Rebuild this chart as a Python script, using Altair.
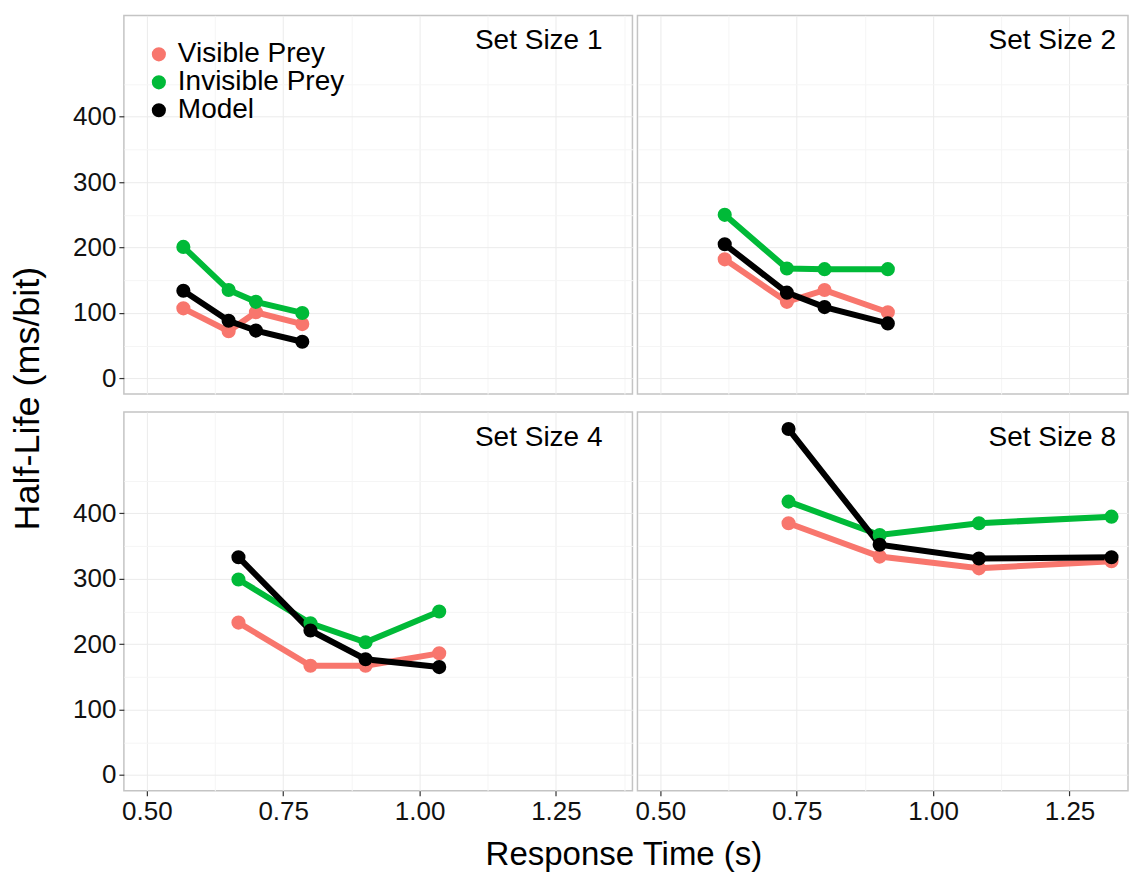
import altair as alt
import pandas as pd

# ---- data ----
series_names = ["Visible Prey", "Invisible Prey", "Model"]
series_colors = ["#F8766D", "#00BA38", "#000000"]
panels = ["Set Size 1", "Set Size 2", "Set Size 4", "Set Size 8"]

rt_ss1 = [0.567, 0.650, 0.700, 0.785]
rt_ss2 = [0.618, 0.732, 0.801, 0.917]
rt_ss4 = [0.668, 0.800, 0.901, 1.036]
rt_ss8 = [0.735, 0.902, 1.084, 1.327]

visible_ss1 = [107, 72, 101, 83]
visible_ss2 = [182, 117, 135, 101]
visible_ss4 = [233, 167, 167, 186]
visible_ss8 = [385, 334, 316, 327]

invisible_ss1 = [201, 135, 117, 100]
invisible_ss2 = [250, 168, 167, 167]
invisible_ss4 = [299, 232, 203, 250]
invisible_ss8 = [418, 367, 385, 395]

model_ss1 = [134, 88, 73, 56]
model_ss2 = [205, 131, 109, 84]
model_ss4 = [333, 221, 177, 165]
model_ss8 = [529, 352, 331, 333]

x_ticks = [0.5, 0.625, 0.75, 0.875, 1.0, 1.125, 1.25, 1.375]
y_ticks = [0, 50, 100, 150, 200, 250, 300, 350, 400, 450]

rts = [rt_ss1, rt_ss2, rt_ss4, rt_ss8]
values = {
    "Visible Prey": [visible_ss1, visible_ss2, visible_ss4, visible_ss8],
    "Invisible Prey": [invisible_ss1, invisible_ss2, invisible_ss4, invisible_ss8],
    "Model": [model_ss1, model_ss2, model_ss4, model_ss8],
}

rows = []
for s in series_names:
    for p, rt, vals in zip(panels, rts, values[s]):
        for i, (x, y) in enumerate(zip(rt, vals)):
            rows.append({"panel": p, "series": s, "rt": x, "hl": y, "idx": i})
df = pd.DataFrame(rows)

FONT = "Liberation Sans"
H = 379
W_LEFT = 509
W_RIGHT = 491
X_MIN = 0.458
X_PER_PX = 1.0 / 546.0
Y_DOMAIN = [-24, 555]

color_enc = alt.Color(
    "series:N",
    scale=alt.Scale(domain=series_names, range=series_colors),
    legend=alt.Legend(
        title=None, orient="none", legendX=21, legendY=25,
        symbolType="circle", symbolSize=200, symbolStrokeWidth=0, symbolOpacity=1,
        labelFontSize=28, labelFont=FONT, labelColor="#000000", rowPadding=-7.5,
        labelOffset=5, labelLimit=0,
    ),
)


def make_panel(name, width, show_x, show_y, x_title=None, y_title=None):
    x_axis_kw = dict(
        values=x_ticks,
        gridColor={"condition": {"test": "round(datum.value*8) % 2 != 0", "value": "#f5f5f5"}, "value": "#ebebeb"},
    )
    if show_x:
        x_axis_kw.update(
            format=".2f",
            labelExpr="round(datum.value*8) % 2 == 0 ? datum.label : ''",
            tickColor={"condition": {"test": "round(datum.value*8) % 2 != 0", "value": "transparent"}, "value": "#333333"},
        )
        if x_title:
            x_axis_kw.update(title=x_title, titleX=500)
        else:
            x_axis_kw.update(title=None)
    else:
        x_axis_kw.update(labels=False, ticks=False, title=None)

    y_axis_kw = dict(
        values=y_ticks,
        gridColor={"condition": {"test": "datum.value % 100 != 0", "value": "#f5f5f5"}, "value": "#ebebeb"},
    )
    if show_y:
        y_axis_kw.update(
            labelExpr="datum.value % 100 == 0 ? datum.label : ''",
            tickColor={"condition": {"test": "datum.value % 100 != 0", "value": "transparent"}, "value": "#333333"},
        )
        if y_title:
            y_axis_kw.update(title=y_title, titleY=383)
        else:
            y_axis_kw.update(title=None)
    else:
        y_axis_kw.update(labels=False, ticks=False, title=None)

    x_enc = alt.X(
        "rt:Q",
        scale=alt.Scale(domain=[X_MIN, X_MIN + width * X_PER_PX], nice=False, zero=False),
        axis=alt.Axis(**x_axis_kw),
    )
    y_enc = alt.Y(
        "hl:Q",
        scale=alt.Scale(domain=Y_DOMAIN, nice=False, zero=False),
        axis=alt.Axis(**y_axis_kw),
    )

    base = alt.Chart(df).transform_filter(alt.datum.panel == name)
    lines = base.mark_line(strokeWidth=6).encode(
        x=x_enc, y=y_enc, color=color_enc, detail="series:N", order="idx:Q"
    )
    points = base.mark_circle(size=200, opacity=1).encode(
        x=x_enc, y=y_enc, color=color_enc
    )
    label = base.transform_filter(
        (alt.datum.idx == 0) & (alt.datum.series == "Model")
    ).mark_text(
        align="right", baseline="alphabetic", fontSize=28, font=FONT, color="#000000"
    ).encode(
        x=alt.value(479), y=alt.value(34), text="panel:N"
    )
    return alt.layer(lines, points, label).properties(width=width, height=H)


p1 = make_panel("Set Size 1", W_LEFT, False, True, y_title="Half-Life (ms/bit)")
p2 = make_panel("Set Size 2", W_RIGHT, False, False)
p4 = make_panel("Set Size 4", W_LEFT, True, True, x_title="Response Time (s)")
p8 = make_panel("Set Size 8", W_RIGHT, True, False)

chart = alt.concat(
    p1, p2, p4, p8, columns=2, spacing={"row": 18, "column": 5}, bounds="flush"
).resolve_scale(
    x="independent"
).configure_view(
    stroke="#c4c4c4", strokeWidth=1.5
).configure_axis(
    domain=False, tickSize=5, tickWidth=1.2, labelFont=FONT, titleFont=FONT,
    labelFontSize=26, labelColor="#111111", titleColor="#000000",
    titleFontWeight="normal", gridWidth=1,
).configure_axisY(
    titleFontSize=36, titlePadding=26, labelPadding=3,
).configure_axisX(
    titleFontSize=33, titlePadding=14, labelPadding=3,
).properties(
    padding={"left": 0, "top": 6, "right": 0, "bottom": 0}
)

chart.save("out.html", embed_options={"renderer": "svg", "actions": False})
